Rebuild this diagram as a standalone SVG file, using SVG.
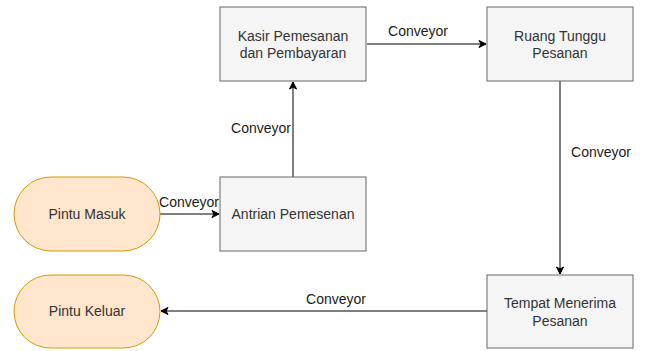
<svg xmlns="http://www.w3.org/2000/svg" width="645" height="351" viewBox="0 0 645 351">
<style>
.box{fill:#f5f5f5;stroke:#666666;stroke-width:1}
.term{fill:#ffe6cc;stroke:#d79b00;stroke-width:1}
.t{font-family:"Liberation Sans",Arial,sans-serif;font-size:14px;fill:#333333;text-anchor:middle;dominant-baseline:central}
.lbl{font-family:"Liberation Sans",Arial,sans-serif;font-size:14px;fill:#1a1a1a;text-anchor:middle;dominant-baseline:central}
.c{fill:none;stroke:#000000;stroke-width:1;marker-end:url(#ah)}
</style>
<defs>
<marker id="ah" markerWidth="10" markerHeight="10" refX="8" refY="5" orient="auto" markerUnits="userSpaceOnUse">
<path d="M1,1.5 L8,5 L1,8.5 L3,5 Z" fill="#000000" stroke="#000000" stroke-width="1"/>
</marker>
</defs>
<rect x="0" y="0" width="645" height="351" fill="#ffffff"/>
<g id="connectors">
<path class="c" d="M160,214 L219,214"/>
<path class="c" d="M293,177 L293,82"/>
<path class="c" d="M367,44 L486,44"/>
<path class="c" d="M560,81 L560,274"/>
<path class="c" d="M487,311 L161,311"/>
<text class="lbl" x="189" y="202">Conveyor</text>
<text class="lbl" x="261" y="128">Conveyor</text>
<text class="lbl" x="418" y="31">Conveyor</text>
<text class="lbl" x="601" y="152">Conveyor</text>
<text class="lbl" x="336" y="299">Conveyor</text>
</g>
<g id="pintu-masuk">
<rect class="term" x="14" y="177" width="146" height="74" rx="37" ry="37"/>
<text class="t" x="87" y="214">Pintu Masuk</text>
</g>
<g id="antrian">
<rect class="box" x="220" y="177" width="146" height="74"/>
<text class="t" x="293" y="214">Antrian Pemesenan</text>
</g>
<g id="kasir">
<rect class="box" x="220" y="7" width="146" height="74"/>
<text class="t" x="293" y="35.5">Kasir Pemesanan</text>
<text class="t" x="293" y="52.5">dan Pembayaran</text>
</g>
<g id="ruang-tunggu">
<rect class="box" x="487" y="7" width="146" height="74"/>
<text class="t" x="560" y="35.5">Ruang Tunggu</text>
<text class="t" x="560" y="52.5">Pesanan</text>
</g>
<g id="tempat-menerima">
<rect class="box" x="487" y="275" width="146" height="73"/>
<text class="t" x="560" y="303">Tempat Menerima</text>
<text class="t" x="560" y="321">Pesanan</text>
</g>
<g id="pintu-keluar">
<rect class="term" x="14" y="275" width="146" height="73" rx="36.5" ry="36.5"/>
<text class="t" x="87" y="311">Pintu Keluar</text>
</g>
</svg>
